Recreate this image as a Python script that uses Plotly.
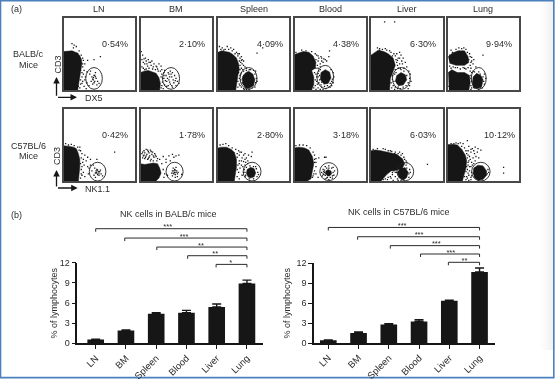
import plotly.graph_objects as go

# ---------- text ----------
ORGANS = ["LN", "BM", "Spleen", "Blood", "Liver", "Lung"]
PCT_BALB = ["0·54%", "2·10%", "4·09%", "4·38%", "6·30%", "9·94%"]
PCT_B6 = ["0·42%", "1·78%", "2·80%", "3·18%", "6·03%", "10·12%"]

# ---------- bars ----------
BALB_MEAN = [0.55, 1.9, 4.4, 4.55, 5.4, 8.9]
BALB_ERR = [0.05, 0.1, 0.15, 0.35, 0.45, 0.5]
B6_MEAN = [0.4, 1.5, 2.8, 3.25, 6.35, 10.7]
B6_ERR = [0.05, 0.15, 0.1, 0.25, 0.1, 0.6]

BALB_BR_START = [0, 0.96, 2.02, 3.04, 3.98]
BALB_BR_LEVEL = [17.06, 15.67, 14.33, 13.04, 11.75]
BALB_STARS = ["***", "***", "**", "**", "*"]
BALB_STAR_X = [2.38, 2.92, 3.48, 3.95, 4.46]
B6_BR_START = [0, 0.97, 2.05, 3.05, 3.97]
B6_BR_LEVEL = [17.4, 16.0, 14.66, 13.4, 12.15]
B6_STARS = ["***", "***", "***", "***", "**"]
B6_STAR_X = [2.44, 3.0, 3.57, 4.05, 4.5]

# ---------- flow cytometry panels (percent of panel width / height) ----------
# dense cell clouds
BLOBS_BALB = [
    [[(0,53),(6,53),(12,54),(17,52),(20,51),(23,47),(25,43),(26,37),(25,30),(24,23),(23,16),(22,8),(20,0),(0,0)]],
    [[(0,24),(5,26),(11,27),(17,25),(22,23),(26,17),(28,9),(27,0),(0,0)]],
    [[(0,52),(5,54),(10,53),(16,52),(21,49),(26,44),(29,36),(30,28),(28,20),(26,10),(25,0),(0,0)],
     [(35,8),(34,16),(38,23),(43,26),(49,22),(52,14),(50,6),(43,2),(38,3)]],
    [[(0,49),(5,51),(12,53),(20,52),(26,47),(30,38),(29,30),(24,27),(27,18),(27,8),(24,0),(0,0)],
     [(36,14),(37,24),(43,28),(49,25),(51,17),(47,9),(41,8)]],
    [[(0,48),(5,51),(10,55),(18,53),(24,50),(31,44),(34,34),(31,26),(27,16),(26,0),(0,0)],
     [(34,12),(36,20),(42,24),(48,21),(50,14),(45,7),(38,6)]],
    [[(1,46),(7,51),(15,54),(24,54),(29,46),(30,38),(24,34),(12,34),(3,37)],
     [(1,24),(6,28),(14,24),(24,24),(31,20),(32,10),(30,0),(2,0)],
     [(35,8),(36,18),(41,23),(47,20),(50,14),(48,4),(42,2),(36,3)]],
]
BLOBS_B6 = [
    [[(0,49),(4,49),(9,48),(14,47),(18,45),(21,38),(23,30),(23,20),(22,10),(21,0),(0,0)]],
    [[(0,24),(6,23),(12,24),(18,25),(24,24),(27,18),(29,11),(26,4),(22,0),(0,0)]],
    [[(0,46),(5,47),(12,47),(18,44),(23,40),(26,30),(26,20),(24,10),(23,0),(0,0)],
     [(40,10),(41,16),(46,19),(51,17),(53,11),(51,6),(46,4),(42,6)]],
    [[(0,46),(6,47),(14,46),(20,43),(25,34),(27,24),(25,14),(23,3),(18,0),(0,0)],
     [(43,10),(44,14),(47,16),(51,14),(52,10),(49,7),(46,7)]],
    [[(0,42),(6,43),(14,42),(24,40),(36,37),(44,31),(47,24),(44,18),(36,15),(28,14),(22,9),(14,0),(0,0)],
     [(39,5),(37,12),(41,18),(48,18),(52,12),(50,5),(45,1)]],
    [[(0,50),(7,51),(14,50),(20,44),(25,36),(27,28),(26,18),(24,10),(21,0),(0,0)],
     [(36,10),(37,18),(43,22),(50,21),(55,14),(55,8),(50,2),(43,1),(38,4)]],
]
# gates: centre x, centre y, radius x, radius y
GATES_BALB = [(43,16,11.7,15),(43,16,12,15),(43,16,12,15),(43,18,11.7,16),(42.5,16,12.6,15),(44,16,10.5,15)]
GATES_B6 = [(48,13,11.7,13),(48,13,12,13),(48,13,12.6,13),(48,13,12.6,12.5),(48,13,11.7,12.5),(47,13,13,13)]

# scattered events outside the dense clouds
DOTS_BALB = [
    [(12,64),(15,62),(18,60),(14,58),(28,41),(34,41),(43,42),(52,46),(30,36),(27,32),(29,27),(33,25),(26,24),(31,18),(27,12),(24,8),(29,5),(33,10),
     (37,22),(40,18),(42,14),(44,20),(46,16),(43,10),(39,12),(48,12),(45,24),(41,8),(36,6),(50,9),(47,7),(38,26),(24,27),(26,18),
     (22,54),(25,48),(27,44),(24,38),(27,36),(28,22),(24,14),(21,5),(23,3),(26,9),(30,14),(32,2),(42,17),(43,20),(41,15),(44,12),(45,18)],
    [(1,53),(3,48),(5,43),(8,40),(11,42),(14,38),(6,36),(10,33),(15,34),(19,36),(23,32),(26,36),(29,33),(12,30),(17,29),(21,28),(4,30),(8,29),(25,26),(30,28),
     (33,24),(36,20),(33,16),(31,11),(34,7),(37,5),(32,2),(40,22),(42,26),(45,24),(48,20),(50,16),(44,18),(40,14),(37,12),(42,8),(47,10),(50,6),(45,4),(52,12),(39,6),(54,9),
     (2,42),(4,38),(7,44),(9,36),(12,38),(16,40),(18,32),(22,33),(24,29),(28,26),(30,22),(29,18),(31,16),(33,20),(30,6),(29,3),(35,13),(38,16),(41,18),(43,22),(39,24),(46,14),(41,11),(44,6),(49,13),(34,27),(2,32),(6,28)],
    [(2,60),(6,58),(10,56),(13,60),(18,58),(22,56),(26,52),(30,50),(33,46),(28,47),(34,42),(32,38),(36,34),(40,30),(55,51),(63,58),(33,30),(33,24),(35,18),(32,14),(30,8),(33,4),(36,2),
     (52,22),(54,16),(53,10),(48,3),(40,1),(36,26),(44,28),(50,27),(31,20),
     (4,56),(8,55),(15,56),(20,54),(24,50),(28,50),(31,44),(33,41),(30,40),(36,40),(31,34),(34,36),(38,32),(31,28),(35,28),(29,24),(32,22),(30,16),(28,12),(31,6),(28,4),(34,10),(46,28),(40,27),(53,26),(55,12),(52,4),(44,1),(37,0.5),(36,20)],
    [(2,52),(10,55),(16,54),(24,53),(29,50),(33,47),(37,46),(41,43),(45,40),(48,46),(49,54),(38,40),(36,36),(32,34),(33,30),(36,28),(30,22),(33,18),(31,12),(29,6),(33,3),(36,1),(34,10),
     (51,28),(54,24),(55,18),(54,10),(52,6),(48,4),(44,2),(40,1),(37,7),(5,24),(8,27),(3,27),(12,29),(16,26),
     (31,48),(34,44),(38,44),(40,38),(43,42),(30,42),(33,40),(36,32),(30,30),(34,26),(28,24),(31,18),(29,14),(35,14),(32,8),(27,3),(30,1),(38,4),(42,5),(46,6),(50,9),(52,12),(53,15),(50,4),(38,11),(35,20),(33,23),(7,30),(10,26),(14,30),(20,27),(24,29)],
    [(19,94),(33,94),(9,58),(12,57),(16,56),(22,55),(28,52),(32,50),(36,50),(40,52),(42,48),(45,44),(38,44),(43,40),(36,38),(48,38),(50,32),(46,30),(38,30),(34,28),(53,26),
     (55,22),(54,16),(56,12),(54,6),(52,2),(30,20),(32,12),(31,6),(34,4),(5,26),(10,29),(3,22),
     (12,55),(20,57),(26,54),(30,47),(34,47),(37,41),(40,44),(35,42),(40,36),(44,36),(37,34),(41,30),(35,24),(33,22),(30,15),(28,10),(29,3),(33,1),(37,2),(41,2),(45,4),(49,6),(52,10),(38,4),(36,10),(50,20),(46,26),(42,28),(8,24),(4,30),(14,24),(18,27)],
    [(3,48),(7,52),(12,56),(20,57),(26,56),(31,50),(34,45),(37,42),(33,38),(36,36),(40,32),(50,48),(33,30),(36,26),(32,26),(8,32),(14,31),(22,31),(5,30),(18,29),(26,29),
     (52,22),(54,16),(52,8),(49,3),(44,1),(33,6),(34,12),(3,20),(5,12),
     (5,55),(16,58),(23,58),(28,52),(32,46),(30,42),(34,40),(32,34),(29,31),(24,30),(11,31),(3,33),(34,24),(33,20),(33,16),(34,3),(38,3),(33,1),(38,25),(44,25),(50,18),(46,22),(51,12),(46,3),(2,5)],
]
DOTS_B6 = [
    [(3,52),(7,50),(11,51),(15,49),(20,47),(24,42),(26,38),(30,36),(34,33),(38,30),(32,28),(27,26),(29,22),(34,20),(38,22),(25,16),(28,12),(26,8),(24,4),(30,6),(35,10),(72,40),(47,30),
     (40,14),(44,18),(46,12),(48,15),(50,11),(52,15),(48,9),(43,8),(53,10),(45,5),(55,7),(36,18),(42,22),
     (46,14),(47,11),(49,13),(45,11),(51,13),(47,16),(50,8),(25,32),(28,30),(24,24),(26,20),(25,10),(23,47),(22,43)],
    [(2,38),(5,42),(8,44),(11,41),(14,43),(17,40),(20,38),(5,36),(9,37),(13,35),(16,37),(3,32),(7,33),(11,31),(15,30),(19,33),(22,34),(24,31),(18,28),(27,30),(32,34),(36,30),(40,35),(45,37),(47,33),(50,35),(54,36),(42,28),(36,26),(30,24),
     (32,16),(34,10),(33,5),(38,8),(58,9),(46,18),(50,19),(47,14),(44,11),(51,14),(49,9),(53,12),(45,7),(49,5),(52,6),
     (3,40),(6,39),(10,43),(12,39),(15,41),(18,35),(8,35),(12,33),(21,36),(4,35),(6,31),(10,30),(14,28),(23,28),(48,12),(46,11),(48,16),(50,12),(47,10),(49,15),(45,14),(52,10)],
    [(3,50),(7,51),(11,52),(15,49),(20,46),(25,44),(29,42),(33,40),(38,38),(43,36),(47,34),(30,36),(34,32),(38,30),(42,28),(36,27),(30,28),(28,22),(31,18),(35,20),(29,12),(27,6),(30,3),(34,8),(38,22),(42,24),(48,40),
     (38,6),(40,19),(54,17),(56,12),(55,6),(53,20),(36,12),
     (27,38),(31,40),(36,36),(40,32),(27,33),(33,28),(39,26),(30,24),(33,22),(27,16),(37,16),(38,12),(39,8),(45,21),(50,20),(57,9),(44,3),(50,3)],
    [(2,49),(7,50),(12,50),(17,49),(22,46),(26,40),(28,36),(30,31),(34,32),(42,33),(44,33),(28,26),(30,20),(28,14),(26,7),(30,10),(33,5),
     (38,12),(40,16),(43,20),(48,21),(54,19),(56,14),(55,8),(53,4),(48,2),(43,3),(39,7),(5,24),(8,22),
     (42,12),(43,8),(41,9),(42,15),(45,18),(48,18),(52,18),(54,12),(53,7),(46,5),(50,5),(41,13),(40,10),(45,4),(30,26),(28,30),(27,10),(25,5)],
    [(3,44),(9,45),(17,45),(24,42),(29,41),(34,40),(38,38),(42,36),(46,33),(49,28),(49,22),(47,18),(32,14),(36,12),(30,9),(34,6),(28,4),(24,5),(20,3),(31,1),(37,3),(4,16),(6,22),(8,19),(10,24),(12,12),
     (53,10),(54,16),(53,5),(79,23),
     (20,44),(27,42),(33,38),(40,40),(44,38),(47,30),(50,26),(34,12),(30,12),(27,6),(23,2),(17,2),(5,28),(7,12),(11,20),(5,8),(3,6),(38,1),(42,0.5),(55,12),(50,18)],
    [(2,50),(5,52),(9,52),(15,52),(18,53),(22,52),(28,56),(30,48),(35,45),(39,47),(43,45),(47,43),(29,42),(33,40),(38,38),(42,40),(27,38),(31,34),(36,32),(40,34),(30,28),(34,26),(39,28),(44,32),(29,22),(33,20),(37,24),(28,16),(31,14),(34,12),(30,8),(27,6),(33,5),(26,2),(30,1),
     (57,16),(56,10),(58,12),(79,19),(79,11),
     (12,53),(20,48),(24,46),(26,42),(33,44),(37,42),(29,36),(28,32),(32,30),(29,26),(35,22),(27,20),(26,13),(31,20),(29,11),(33,2),(28,4),(24,6),(34,7)],
]

# ---------- geometry ----------
W, H = 555, 380
COLS = [(63.5, 134.5), (140.5, 211.5), (218, 289), (294.5, 366), (371, 442.5), (447.5, 518.5)]
ROWS = [(17.5, 90), (109, 181)]
INK = "#161616"
TXT = "#2c2c2c"
FONT = "Liberation Sans"
FRAME = "#484848"
BLUE = "#4a80bd"
BRACKET_TOP = 220
PAGE = "99"   # full-page hidden axes measured in pixels, carry the free-standing labels

def px(x):
    return x / W
def py(y):
    return 1 - y / H

fig = go.Figure()
layout = dict(
    template="none",
    width=W, height=H, margin=dict(l=0, r=0, t=0, b=0, pad=0), autosize=False,
    paper_bgcolor="white", plot_bgcolor="rgba(0,0,0,0)", showlegend=False,
    font=dict(family=FONT, color=TXT, size=9), hovermode=False,
)
layout["xaxis" + PAGE] = dict(domain=[0, 1], range=[0, W], visible=False, anchor="y" + PAGE, fixedrange=True)
layout["yaxis" + PAGE] = dict(domain=[0, 1], range=[H, 0], visible=False, anchor="x" + PAGE, fixedrange=True)
fig.add_trace(go.Scatter(x=[W / 2], y=[H / 2], mode="markers", marker=dict(size=1, opacity=0),
                         xaxis="x" + PAGE, yaxis="y" + PAGE))
shapes, annotations = [], []

def label(x, y, text, size=9, angle=0, xanchor="center"):
    annotations.append(dict(xref="x" + PAGE, yref="y" + PAGE, x=x, y=y, text=text, showarrow=False,
                            font=dict(family=FONT, size=size, color=TXT), textangle=angle,
                            xanchor=xanchor, yanchor="middle"))

def arrow(x0, y0, x1, y1):
    annotations.append(dict(xref="x" + PAGE, yref="y" + PAGE, axref="pixel", ayref="pixel",
                            x=x1, y=y1, ax=x0 - x1, ay=y0 - y1, text="", showarrow=True,
                            arrowhead=2, arrowsize=1, arrowwidth=1.3, arrowcolor=INK))

# ---------- page decoration ----------
for i, c in enumerate(["#fdfdfd", "#fbfbfb", "#f9f9f9", "#f7f7f7", "#f4f4f4", "#f2f2f2", "#f0f0f0"]):
    shapes.append(dict(type="rect", xref="paper", yref="paper", layer="below", line_width=0, fillcolor=c,
                       x0=px(541 + i * 2), x1=px(543 + i * 2), y0=py(350), y1=py(1)))
shapes.append(dict(type="rect", xref="paper", yref="paper", x0=px(0.5), x1=px(553.8), y0=py(377.6), y1=py(0.7),
                   line=dict(color=BLUE, width=1.6), fillcolor="rgba(0,0,0,0)", layer="below"))

# ---------- flow panels ----------
ax = 0
for r, (blobs, gates, dots, pcts) in enumerate([(BLOBS_BALB, GATES_BALB, DOTS_BALB, PCT_BALB),
                                                (BLOBS_B6, GATES_B6, DOTS_B6, PCT_B6)]):
    for c in range(6):
        ax += 1
        sfx = "" if ax == 1 else str(ax)
        common = dict(range=[0, 100], showticklabels=False, ticks="", showgrid=False, zeroline=False,
                      showline=True, mirror=True, linecolor=FRAME, linewidth=1.5, fixedrange=True)
        layout["xaxis" + sfx] = dict(common, domain=[px(COLS[c][0]), px(COLS[c][1])], anchor="y" + sfx)
        layout["yaxis" + sfx] = dict(common, domain=[py(ROWS[r][1]), py(ROWS[r][0])], anchor="x" + sfx)
        for poly in blobs[c]:
            fig.add_trace(go.Scatter(x=[p[0] for p in poly], y=[p[1] for p in poly], mode="lines", fill="toself",
                                     fillcolor=INK, line=dict(color=INK, width=0.5), xaxis="x" + sfx, yaxis="y" + sfx))
        fig.add_trace(go.Scatter(x=[p[0] for p in dots[c]], y=[p[1] for p in dots[c]], mode="markers",
                                 marker=dict(size=1.3, color=INK, symbol="square"), xaxis="x" + sfx, yaxis="y" + sfx))
        gx, gy, grx, gry = gates[c]
        shapes.append(dict(type="circle", xref="x" + sfx, yref="y" + sfx, x0=gx - grx, x1=gx + grx,
                           y0=gy - gry, y1=gy + gry, line=dict(color="#222222", width=0.9)))
        x_mid = (COLS[c][0] + COLS[c][1]) / 2
        label(x_mid + 16, ROWS[r][0] + 26.3, pcts[c])
        if r == 0:
            label(x_mid, 9, ORGANS[c])

label(16, 9, "(a)")
label(28, 54, "BALB/c")
label(28, 65, "Mice")
label(28, 146, "C57BL/6")
label(28, 156, "Mice")
for y_text, y_base, tip, name, x_name, x_end in [(64.5, 97.3, 77, "DX5", 82.5, 77), (156, 188, 170, "NK1.1", 82.5, 77.7)]:
    label(57, y_text, "CD3", angle=-90)
    arrow(56.5, y_base, 56.5, tip)
    arrow(56.5, y_base, x_end, y_base)
    label(x_name, y_base + 0.5, name, xanchor="left")

# ---------- bar charts ----------
label(16, 215, "(b)")
for n, (means, errs, starts, levels, stars, star_x, x0, x1, y0, y1, first_x, title, tx, ty, yt) in enumerate([
    (BALB_MEAN, BALB_ERR, BALB_BR_START, BALB_BR_LEVEL, BALB_STARS, BALB_STAR_X, 77.3, 263, 343.3, 262.7, 95.7,
     "NK cells in BALB/c mice", 168, 214, 53),
    (B6_MEAN, B6_ERR, B6_BR_START, B6_BR_LEVEL, B6_STARS, B6_STAR_X, 314, 495, 343, 263.3, 328.3,
     "NK cells in C57BL/6 mice", 399, 212, 286),
]):
    ax += 1
    sfx = str(ax)
    left = (x0 - first_x) / 30.25
    right = left + (x1 - x0) / 30.25
    layout["xaxis" + sfx] = dict(domain=[px(x0), px(x1)], anchor="y" + sfx, range=[left, right], automargin=False,
                                 tickmode="array", tickvals=list(range(6)), ticktext=ORGANS, tickangle=-45,
                                 ticks="outside", ticklen=4, tickwidth=1.4, tickcolor=INK,
                                 showline=True, linecolor=INK, linewidth=1.5, showgrid=False, zeroline=False,
                                 tickfont=dict(family=FONT, size=9.5, color=TXT), fixedrange=True)
    layout["yaxis" + sfx] = dict(domain=[py(y0), py(y1)], anchor="x" + sfx, range=[0, 12], automargin=False,
                                 tickmode="array", tickvals=[0, 3, 6, 9, 12],
                                 ticks="outside", ticklen=4, tickwidth=1.4, tickcolor=INK,
                                 showline=True, linecolor=INK, linewidth=1.5, showgrid=False, zeroline=False,
                                 tickfont=dict(family=FONT, size=9, color=TXT), fixedrange=True)
    fig.add_trace(go.Bar(x=list(range(6)), y=means, width=0.55, marker=dict(color=INK, line_width=0),
                         error_y=dict(type="data", symmetric=False, array=errs, arrayminus=[0] * 6,
                                      color=INK, thickness=1.4, width=4.5),
                         xaxis="x" + sfx, yaxis="y" + sfx))
    # invisible taller twin axes with the same data scale carry the significance brackets
    ax += 1
    sfx = str(ax)
    layout["xaxis" + sfx] = dict(domain=[px(x0), px(x1)], anchor="y" + sfx, range=[left, right], visible=False, fixedrange=True)
    layout["yaxis" + sfx] = dict(domain=[py(y0), py(BRACKET_TOP)], anchor="x" + sfx,
                                 range=[0, 12 * (y0 - BRACKET_TOP) / (y0 - y1)], visible=False, fixedrange=True)
    for s, lv in zip(starts, levels):
        fig.add_trace(go.Scatter(x=[s, s, 5, 5], y=[lv - 0.45, lv, lv, lv - 0.45], mode="lines",
                                 line=dict(color="#2a2a2a", width=1), xaxis="x" + sfx, yaxis="y" + sfx))
    fig.add_trace(go.Scatter(x=star_x, y=[lv + 0.2 for lv in levels], mode="text", text=stars,
                             textfont=dict(family=FONT, size=7.5, color=TXT), textposition="middle center",
                             xaxis="x" + sfx, yaxis="y" + sfx))
    label(tx, ty, title)
    label(yt, 303.5, "% of lymphocytes", angle=-90)

layout["shapes"] = shapes
layout["annotations"] = annotations
fig.update_layout(**layout)
fig.write_html("out.html", config={"displayModeBar": False},
               post_script="document.body.style.margin='0';document.querySelector('.plotly-graph-div').style.filter='blur(0.4px)';")
